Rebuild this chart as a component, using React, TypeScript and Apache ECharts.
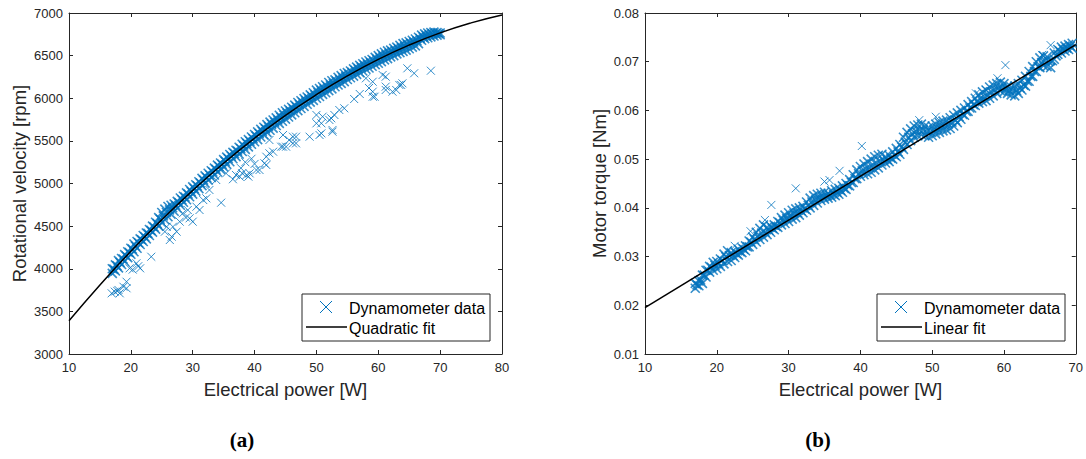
import React, { useEffect, useRef } from "react";
import * as echarts from "echarts";

// ---------- (a) Rotational velocity vs electrical power ----------
const velFitX = [10, 15, 20, 25, 30, 35, 40, 45, 50, 55, 60, 65, 70, 75, 80];
const velFitY = [3390, 3810, 4205, 4574, 4918, 5238, 5531, 5800, 6043, 6262, 6456, 6624, 6767, 6884, 6977];

const velBandUpper: number[][] = [
  [17, 4000], [17.5, 4045], [18, 4095], [18.5, 4120], [19, 4165], [19.5, 4200], [20, 4240], [20.5, 4290],
  [21, 4320], [21.5, 4350], [22, 4390], [22.5, 4420], [23, 4460], [23.5, 4500], [24, 4545], [24.5, 4600],
  [25, 4660], [25.5, 4700], [26, 4730], [26.5, 4745], [27, 4760], [27.5, 4790], [28, 4830], [28.5, 4850],
  [29, 4890], [29.5, 4930], [30, 4960], [30.5, 4985], [31, 5020], [31.5, 5060], [32, 5090], [32.5, 5120],
  [33, 5150], [33.5, 5180], [34, 5215], [34.5, 5240], [35, 5280], [35.5, 5310], [36, 5340], [36.5, 5365],
  [37, 5390], [37.5, 5425], [38, 5460], [38.5, 5490], [39, 5515], [39.5, 5545], [40, 5575], [40.5, 5605],
  [41, 5635], [41.5, 5660], [42, 5690], [42.5, 5720], [43, 5745], [43.5, 5770], [44, 5800], [44.5, 5830],
  [45, 5850], [45.5, 5870], [46, 5895], [46.5, 5920], [47, 5950], [47.5, 5970], [48, 5995], [48.5, 6015],
  [49, 6040], [49.5, 6065], [50, 6095], [50.5, 6115], [51, 6135], [51.5, 6155], [52, 6185], [52.5, 6205],
  [53, 6215], [53.5, 6245], [54, 6265], [54.5, 6290], [55, 6300], [55.5, 6320], [56, 6345], [56.5, 6365],
  [57, 6385], [57.5, 6405], [58, 6425], [58.5, 6440], [59, 6455], [59.5, 6480], [60, 6500], [60.5, 6520],
  [61, 6540], [61.5, 6555], [62, 6565], [62.5, 6585], [63, 6600], [63.5, 6620], [64, 6640], [64.5, 6650],
  [65, 6665], [65.5, 6680], [66, 6695], [66.5, 6715], [67, 6740], [67.5, 6755], [68, 6765], [68.5, 6770],
  [69, 6775], [69.5, 6770], [70, 6765],
];
const velBandMiddle: number[][] = [
  [17.25, 3995], [17.75, 4035], [18.25, 4075], [18.75, 4115], [19.25, 4150], [19.75, 4190], [20.25, 4230], [20.75, 4265],
  [21.25, 4305], [21.75, 4340], [22.25, 4375], [22.75, 4415], [23.25, 4450], [23.75, 4490], [24.25, 4530], [24.75, 4580],
  [25.25, 4620], [25.75, 4660], [26.25, 4690], [26.75, 4715], [27.25, 4745], [27.75, 4775], [28.25, 4810], [28.75, 4840],
  [29.25, 4875], [29.75, 4905], [30.25, 4940], [30.75, 4970], [31.25, 5005], [31.75, 5040], [32.25, 5070], [32.75, 5100],
  [33.25, 5135], [33.75, 5165], [34.25, 5200], [34.75, 5225], [35.25, 5260], [35.75, 5290], [36.25, 5320], [36.75, 5350],
  [37.25, 5380], [37.75, 5410], [38.25, 5440], [38.75, 5470], [39.25, 5495], [39.75, 5525], [40.25, 5555], [40.75, 5585],
  [41.25, 5610], [41.75, 5640], [42.25, 5665], [42.75, 5695], [43.25, 5720], [43.75, 5745], [44.25, 5775], [44.75, 5800],
  [45.25, 5825], [45.75, 5850], [46.25, 5875], [46.75, 5900], [47.25, 5925], [47.75, 5950], [48.25, 5970], [48.75, 5995],
  [49.25, 6020], [49.75, 6040], [50.25, 6065], [50.75, 6090], [51.25, 6110], [51.75, 6135], [52.25, 6155], [52.75, 6175],
  [53.25, 6200], [53.75, 6220], [54.25, 6240], [54.75, 6260], [55.25, 6285], [55.75, 6305], [56.25, 6325], [56.75, 6345],
  [57.25, 6365], [57.75, 6385], [58.25, 6400], [58.75, 6420], [59.25, 6440], [59.75, 6460], [60.25, 6475], [60.75, 6495],
  [61.25, 6510], [61.75, 6530], [62.25, 6545], [62.75, 6560], [63.25, 6580], [63.75, 6595], [64.25, 6610], [64.75, 6630],
  [65.25, 6645], [65.75, 6660], [66.25, 6675], [66.75, 6700], [67.25, 6720], [67.75, 6735], [68.25, 6745], [68.75, 6755],
  [69.25, 6760], [69.75, 6760],
];
const velBandLower: number[][] = [
  [17, 3945], [17.5, 3975], [18, 4010], [18.5, 4050], [19, 4085], [19.5, 4130], [20, 4170], [20.5, 4200],
  [21, 4240], [21.5, 4285], [22, 4320], [22.5, 4350], [23, 4390], [23.5, 4430], [24, 4465], [24.5, 4500],
  [25, 4540], [25.5, 4575], [26, 4610], [26.5, 4640], [27, 4675], [27.5, 4710], [28, 4745], [28.5, 4780],
  [29, 4810], [29.5, 4845], [30, 4875], [30.5, 4910], [31, 4940], [31.5, 4975], [32, 5005], [32.5, 5040],
  [33, 5070], [33.5, 5100], [34, 5135], [34.5, 5165], [35, 5195], [35.5, 5225], [36, 5255], [36.5, 5290],
  [37, 5315], [37.5, 5345], [38, 5375], [38.5, 5400], [39, 5430], [39.5, 5460], [40, 5490], [40.5, 5515],
  [41, 5545], [41.5, 5570], [42, 5600], [42.5, 5625], [43, 5650], [43.5, 5680], [44, 5705], [44.5, 5730],
  [45, 5755], [45.5, 5780], [46, 5805], [46.5, 5830], [47, 5855], [47.5, 5880], [48, 5905], [48.5, 5930],
  [49, 5955], [49.5, 5975], [50, 6000], [50.5, 6020], [51, 6045], [51.5, 6065], [52, 6090], [52.5, 6110],
  [53, 6135], [53.5, 6155], [54, 6175], [54.5, 6195], [55, 6220], [55.5, 6240], [56, 6260], [56.5, 6280],
  [57, 6300], [57.5, 6320], [58, 6340], [58.5, 6355], [59, 6375], [59.5, 6395], [60, 6410], [60.5, 6430],
  [61, 6450], [61.5, 6465], [62, 6485], [62.5, 6500], [63, 6520], [63.5, 6535], [64, 6550], [64.5, 6565],
  [65, 6580], [65.5, 6600], [66, 6615], [66.5, 6640], [67, 6680], [67.5, 6700], [68, 6710], [68.5, 6720],
  [69, 6730], [69.5, 6740], [70, 6745],
];
const velOutliers: number[][] = [
  [16.9, 3712], [17.4, 3731], [18, 3751], [18.2, 3712], [17.8, 3740], [18.8, 3789], [19.3, 3771], [19.3, 3848],
  [19.8, 4005], [20.9, 4064], [21.5, 4005], [21.2, 4030], [20.3, 3990], [23.3, 4141], [25.5, 4435], [25.8, 4493],
  [26.3, 4337], [26.6, 4376], [26.8, 4493], [27.4, 4435], [27.9, 4552], [28.4, 4650], [28.9, 4600], [29.2, 4689],
  [29.5, 4592], [30, 4552], [30.6, 4728], [31.1, 4689], [31.7, 4806], [32.2, 4826], [32.7, 4924], [33.8, 5041],
  [34.6, 4775], [35.4, 5119], [36.5, 5050], [37, 5100], [37.6, 5080], [37.8, 5180], [38, 5120], [38.5, 5250],
  [38.7, 5100], [39, 5080], [39.2, 5119], [39.5, 5290], [40, 5230], [40.3, 5158], [40.8, 5158], [41.6, 5237],
  [41.9, 5217], [41.9, 5314], [42.4, 5354], [42.4, 5510], [43, 5373], [44.3, 5432], [44.6, 5432], [44.6, 5569],
  [45.1, 5432], [45.6, 5510], [46.2, 5471], [46.2, 5549], [46.7, 5549], [46.7, 5471], [48.9, 5549], [50.5, 5569],
  [50.8, 5588], [52.6, 5608], [52.6, 5628], [50, 5706], [50.8, 5706], [52.1, 5745], [52.4, 5765], [50, 5804],
  [51, 5784], [52.9, 5804], [53.7, 5862], [54.5, 5882], [56.1, 5991], [57, 6050], [58, 6234], [58.5, 6120],
  [59.1, 6018], [59.1, 6077], [59.1, 6194], [59.4, 6018], [60.7, 6273], [61.2, 6097], [61.2, 6136], [61.2, 6253],
  [62.3, 6077], [62.9, 6097], [63.4, 6156], [63.7, 6156], [63.9, 6175], [64.7, 6351], [65.8, 6293], [68.5, 6323],
];

// ---------- (b) Motor torque vs electrical power ----------
const torqueFitX = [10, 70];
const torqueFitY = [0.0195, 0.0735];

const torqueBandA: number[][] = [
  [17, 0.0235], [17.5, 0.024], [18, 0.0245], [18.5, 0.0258], [19, 0.0268], [19.5, 0.0272], [20, 0.0275], [20.5, 0.028],
  [21, 0.0285], [21.5, 0.029], [22, 0.0292], [22.5, 0.0298], [23, 0.0303], [23.5, 0.0308], [24, 0.0312], [24.5, 0.032],
  [25, 0.0325], [25.5, 0.033], [26, 0.0335], [26.5, 0.034], [27, 0.0345], [27.5, 0.035], [28, 0.0355], [28.5, 0.036],
  [29, 0.0365], [29.5, 0.0368], [30, 0.0372], [30.5, 0.0377], [31, 0.038], [31.5, 0.0385], [32, 0.039], [32.5, 0.0395],
  [33, 0.04], [33.5, 0.0405], [34, 0.041], [34.5, 0.0415], [35, 0.0418], [35.5, 0.042], [36, 0.0422], [36.5, 0.0425],
  [37, 0.0428], [37.5, 0.0432], [38, 0.0438], [38.5, 0.0445], [39, 0.0452], [39.5, 0.046], [40, 0.0465], [40.5, 0.0468],
  [41, 0.047], [41.5, 0.0473], [42, 0.0478], [42.5, 0.0482], [43, 0.0488], [43.5, 0.0492], [44, 0.0495], [44.5, 0.05],
  [45, 0.0505], [45.5, 0.051], [46, 0.052], [46.5, 0.053], [47, 0.0538], [47.5, 0.0545], [48, 0.0548], [48.5, 0.055],
  [49, 0.0548], [49.5, 0.0545], [50, 0.0548], [50.5, 0.0552], [51, 0.0555], [51.5, 0.0558], [52, 0.056], [52.5, 0.0563],
  [53, 0.0568], [53.5, 0.0575], [54, 0.0582], [54.5, 0.059], [55, 0.0598], [55.5, 0.0605], [56, 0.061], [56.5, 0.0615],
  [57, 0.0618], [57.5, 0.062], [58, 0.0625], [58.5, 0.063], [59, 0.0635], [59.5, 0.064], [60, 0.0638], [60.5, 0.0635],
  [61, 0.0632], [61.5, 0.063], [62, 0.0635], [62.5, 0.0642], [63, 0.065], [63.5, 0.066], [64, 0.067], [64.5, 0.068],
  [65, 0.0688], [65.5, 0.0692], [66, 0.069], [66.5, 0.0688], [67, 0.0705], [67.5, 0.0715], [68, 0.0718], [68.5, 0.0722],
  [69, 0.0725], [69.5, 0.0728],
];
const torqueBandMiddle: number[][] = [
  [17.25, 0.0242], [17.75, 0.0252], [18.25, 0.0262], [18.75, 0.0272], [19.25, 0.0278], [19.75, 0.0282], [20.25, 0.0285],
  [20.75, 0.0292], [21.25, 0.03], [21.75, 0.0302], [22.25, 0.0302], [22.75, 0.0306], [23.25, 0.031], [23.75, 0.0315],
  [24.25, 0.032], [24.75, 0.033], [25.25, 0.0335], [25.75, 0.0342], [26.25, 0.0348], [26.75, 0.035], [27.25, 0.0354],
  [27.75, 0.0358], [28.25, 0.0362], [28.75, 0.037], [29.25, 0.0374], [29.75, 0.0378], [30.25, 0.0383], [30.75, 0.0388],
  [31.25, 0.039], [31.75, 0.0394], [32.25, 0.0398], [32.75, 0.0405], [33.25, 0.0412], [33.75, 0.0416], [34.25, 0.042],
  [34.75, 0.0423], [35.25, 0.0425], [35.75, 0.0426], [36.25, 0.0428], [36.75, 0.0432], [37.25, 0.0436], [37.75, 0.044],
  [38.25, 0.0446], [38.75, 0.0452], [39.25, 0.046], [39.75, 0.047], [40.25, 0.0476], [40.75, 0.048], [41.25, 0.0483],
  [41.75, 0.0488], [42.25, 0.0492], [42.75, 0.0496], [43.25, 0.0498], [43.75, 0.0499], [44.25, 0.0502], [44.75, 0.0508],
  [45.25, 0.0515], [45.75, 0.0525], [46.25, 0.0535], [46.75, 0.0545], [47.25, 0.0552], [47.75, 0.0557], [48.25, 0.056],
  [48.75, 0.056], [49.25, 0.0556], [49.75, 0.0556], [50.25, 0.056], [50.75, 0.0563], [51.25, 0.0566], [51.75, 0.0569],
  [52.25, 0.0572], [52.75, 0.0576], [53.25, 0.058], [53.75, 0.0587], [54.25, 0.0592], [54.75, 0.0598], [55.25, 0.0605],
  [55.75, 0.0612], [56.25, 0.0618], [56.75, 0.0625], [57.25, 0.0628], [57.75, 0.0632], [58.25, 0.0638], [58.75, 0.0642],
  [59.25, 0.0646], [59.75, 0.0648], [60.25, 0.0645], [60.75, 0.0641], [61.25, 0.064], [61.75, 0.0641], [62.25, 0.0646],
  [62.75, 0.0652], [63.25, 0.066], [63.75, 0.067], [64.25, 0.068], [64.75, 0.069], [65.25, 0.0698], [65.75, 0.0702],
  [66.25, 0.07], [66.75, 0.0702], [67.25, 0.0712], [67.75, 0.0722], [68.25, 0.0725], [68.75, 0.0728], [69.25, 0.0732],
];
const torqueBandB: number[][] = [
  [17, 0.0245], [17.5, 0.025], [18, 0.0262], [18.5, 0.0272], [19, 0.028], [19.5, 0.0288], [20, 0.029], [20.5, 0.0295],
  [21, 0.0305], [21.5, 0.0312], [22, 0.0308], [22.5, 0.031], [23, 0.0315], [23.5, 0.0318], [24, 0.0322], [24.5, 0.0332],
  [25, 0.034], [25.5, 0.035], [26, 0.0358], [26.5, 0.0365], [27, 0.036], [27.5, 0.0362], [28, 0.0365], [28.5, 0.0372],
  [29, 0.038], [29.5, 0.0385], [30, 0.039], [30.5, 0.0395], [31, 0.0398], [31.5, 0.04], [32, 0.0403], [32.5, 0.0412],
  [33, 0.042], [33.5, 0.0425], [34, 0.0428], [34.5, 0.043], [35, 0.0432], [35.5, 0.043], [36, 0.0435], [36.5, 0.0438],
  [37, 0.044], [37.5, 0.0445], [38, 0.045], [38.5, 0.0458], [39, 0.0468], [39.5, 0.0478], [40, 0.0485], [40.5, 0.049],
  [41, 0.0495], [41.5, 0.05], [42, 0.0505], [42.5, 0.0508], [43, 0.051], [43.5, 0.0505], [44, 0.0508], [44.5, 0.0515],
  [45, 0.0522], [45.5, 0.053], [46, 0.0545], [46.5, 0.0555], [47, 0.0562], [47.5, 0.0568], [48, 0.057], [48.5, 0.0572],
  [49, 0.0568], [49.5, 0.0565], [50, 0.0568], [50.5, 0.0572], [51, 0.0575], [51.5, 0.0578], [52, 0.058], [52.5, 0.0585],
  [53, 0.059], [53.5, 0.0595], [54, 0.06], [54.5, 0.0605], [55, 0.0612], [55.5, 0.0618], [56, 0.0625], [56.5, 0.0632],
  [57, 0.0638], [57.5, 0.0642], [58, 0.0648], [58.5, 0.0652], [59, 0.0655], [59.5, 0.0658], [60, 0.0655], [60.5, 0.065],
  [61, 0.0648], [61.5, 0.065], [62, 0.0655], [62.5, 0.0662], [63, 0.067], [63.5, 0.068], [64, 0.069], [64.5, 0.07],
  [65, 0.0708], [65.5, 0.0712], [66, 0.071], [66.5, 0.0702], [67, 0.0718], [67.5, 0.0725], [68, 0.073], [68.5, 0.0732],
  [69, 0.0735], [69.5, 0.0738],
];
const torqueOutliers: number[][] = [
  [22.5, 0.0322], [24.7, 0.0352], [26.7, 0.0375], [27.6, 0.0406], [31, 0.044], [35, 0.0454], [35.7, 0.0457],
  [37.1, 0.0476], [40.2, 0.0527], [48.2, 0.058], [50.5, 0.0587], [56.1, 0.0635], [57.5, 0.0642], [59.1, 0.0666],
  [60.2, 0.0693], [65.3, 0.0714], [66.5, 0.0734],
];

const xTicksA = { min: 10, max: 80, interval: 10 };
const yTicksA = { min: 3000, max: 7000, interval: 500 };
const xTicksB = { min: 10, max: 70, interval: 10 };
const yTicksB = { min: 0.01, max: 0.08, interval: 0.01 };

const AXIS_COLOR = "#262626";
const BLUE = "#0072BD";
const FONT = "'Liberation Sans', Arial, Helvetica, sans-serif";
const CROSS = "path://M0,0L10,10M0,10L10,0";

function axisBase(show: boolean) {
  return {
    type: "value" as const,
    axisLine: { show: true, onZero: false, lineStyle: { color: AXIS_COLOR, width: 1 } },
    axisTick: { show: true, inside: true, length: 4, lineStyle: { color: AXIS_COLOR } },
    splitLine: { show: false },
    axisLabel: { show, color: AXIS_COLOR, fontSize: 13, fontFamily: FONT },
  };
}

function legendGraphics(x0: number, fitLabel: string) {
  return [
    {
      type: "rect",
      shape: { x: x0, y: 294, width: 188, height: 47 },
      style: { fill: "#fff", stroke: AXIS_COLOR, lineWidth: 1 },
      z: 100,
    },
    { type: "line", shape: { x1: x0 + 18, y1: 301, x2: x0 + 30, y2: 313 }, style: { stroke: BLUE, lineWidth: 1 }, z: 101 },
    { type: "line", shape: { x1: x0 + 18, y1: 313, x2: x0 + 30, y2: 301 }, style: { stroke: BLUE, lineWidth: 1 }, z: 101 },
    { type: "line", shape: { x1: x0 + 4, y1: 327, x2: x0 + 45, y2: 327 }, style: { stroke: "#000", lineWidth: 1.5 }, z: 101 },
    {
      type: "text",
      x: x0 + 47,
      y: 308,
      style: { text: "Dynamometer data", fill: "#000", font: `16px ${FONT}`, textVerticalAlign: "middle" },
      z: 101,
    },
    {
      type: "text",
      x: x0 + 47,
      y: 328,
      style: { text: fitLabel, fill: "#000", font: `16px ${FONT}`, textVerticalAlign: "middle" },
      z: 101,
    },
  ];
}

export default function App() {
  const ref = useRef<HTMLDivElement>(null);
  useEffect(() => {
    if (!ref.current) return;
    const chart = echarts.init(ref.current, null, { renderer: "svg" });
    const sparse = {
      type: "scatter" as const,
      name: "Dynamometer data",
      symbol: CROSS,
      symbolSize: 8,
      itemStyle: { color: "none", borderColor: BLUE, borderWidth: 1 },
      silent: true,
    };
    const dense = {
      ...sparse,
      symbolSize: 9,
      itemStyle: { color: "none", borderColor: BLUE, borderWidth: 1.6 },
    };
    const titleStyle = { color: AXIS_COLOR, fontSize: 18.5, fontFamily: FONT };
    const option: any = {
      animation: false,
      backgroundColor: "#fff",
      grid: [
        { left: 69, top: 13, width: 433, height: 341 },
        { left: 645, top: 13, width: 432, height: 341 },
      ],
      xAxis: [
        {
          ...axisBase(true),
          gridIndex: 0,
          position: "bottom",
          ...xTicksA,
          axisLabel: { ...axisBase(true).axisLabel, margin: 7 },
          name: "Electrical power [W]",
          nameLocation: "middle",
          nameGap: 26,
          nameTextStyle: titleStyle,
        },
        { ...axisBase(false), gridIndex: 0, position: "top", ...xTicksA },
        {
          ...axisBase(true),
          gridIndex: 1,
          position: "bottom",
          ...xTicksB,
          axisLabel: { ...axisBase(true).axisLabel, margin: 7 },
          name: "Electrical power [W]",
          nameLocation: "middle",
          nameGap: 26,
          nameTextStyle: titleStyle,
        },
        { ...axisBase(false), gridIndex: 1, position: "top", ...xTicksB },
      ],
      yAxis: [
        {
          ...axisBase(true),
          gridIndex: 0,
          position: "left",
          ...yTicksA,
          axisLabel: { ...axisBase(true).axisLabel, margin: 6, formatter: (v: number) => String(v) },
          name: "Rotational velocity [rpm]",
          nameLocation: "middle",
          nameGap: 40,
          nameTextStyle: titleStyle,
        },
        { ...axisBase(false), gridIndex: 0, position: "right", ...yTicksA },
        {
          ...axisBase(true),
          gridIndex: 1,
          position: "left",
          ...yTicksB,
          axisLabel: {
            ...axisBase(true).axisLabel,
            margin: 6,
            formatter: (v: number) => v.toFixed(2),
          },
          name: "Motor torque [Nm]",
          nameLocation: "middle",
          nameGap: 36,
          nameTextStyle: titleStyle,
        },
        { ...axisBase(false), gridIndex: 1, position: "right", ...yTicksB },
      ],
      series: [
        { ...sparse, xAxisIndex: 0, yAxisIndex: 0, data: velOutliers },
        {
          ...dense,
          xAxisIndex: 0,
          yAxisIndex: 0,
          data: [...velBandLower, ...velBandMiddle, ...velBandUpper],
        },
        {
          type: "line",
          name: "Quadratic fit",
          xAxisIndex: 0,
          yAxisIndex: 0,
          data: velFitX.map((x, i) => [x, velFitY[i]]),
          smooth: true,
          showSymbol: false,
          lineStyle: { color: "#000", width: 1.5 },
          silent: true,
          z: 5,
        },
        { ...sparse, xAxisIndex: 2, yAxisIndex: 2, data: torqueOutliers },
        {
          ...dense,
          xAxisIndex: 2,
          yAxisIndex: 2,
          data: [...torqueBandA, ...torqueBandMiddle, ...torqueBandB],
        },
        {
          type: "line",
          name: "Linear fit",
          xAxisIndex: 2,
          yAxisIndex: 2,
          data: torqueFitX.map((x, i) => [x, torqueFitY[i]]),
          showSymbol: false,
          lineStyle: { color: "#000", width: 1.5 },
          silent: true,
          z: 5,
        },
      ],
      graphic: [
        ...legendGraphics(302, "Quadratic fit"),
        ...legendGraphics(877, "Linear fit"),
        {
          type: "text",
          x: 242,
          y: 440,
          style: {
            text: "(a)",
            fill: "#000",
            font: "bold 21px 'Liberation Serif', 'DejaVu Serif', serif",
            textAlign: "center",
            textVerticalAlign: "middle",
          },
        },
        {
          type: "text",
          x: 818,
          y: 440,
          style: {
            text: "(b)",
            fill: "#000",
            font: "bold 21px 'Liberation Serif', 'DejaVu Serif', serif",
            textAlign: "center",
            textVerticalAlign: "middle",
          },
        },
      ],
    };
    chart.setOption(option);
    return () => chart.dispose();
  }, []);
  return (
    <div
      ref={ref}
      style={{ position: "fixed", left: 0, top: 0, width: 1086, height: 459, background: "#fff" }}
    />
  );
}
